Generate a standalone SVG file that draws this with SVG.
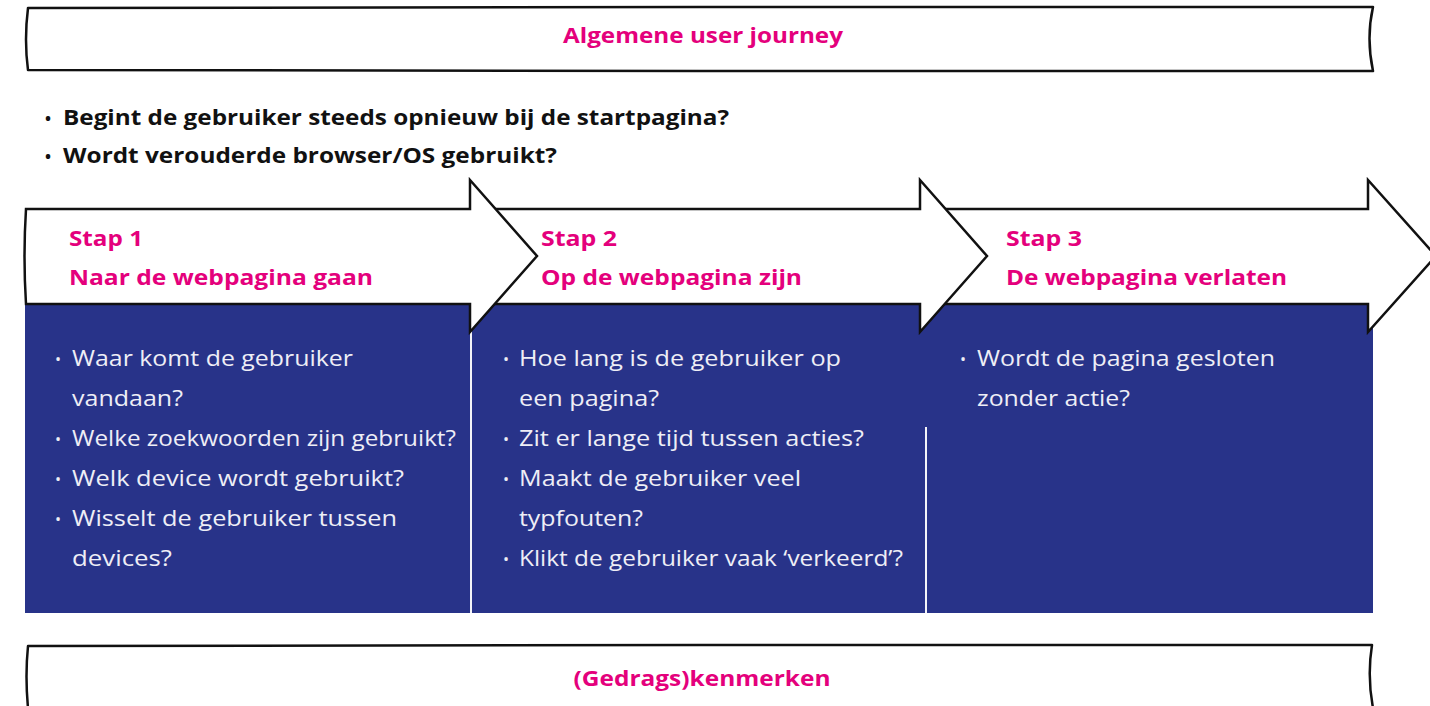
<svg xmlns="http://www.w3.org/2000/svg" width="1430" height="706" viewBox="0 0 1430 706">
<style>
.ban{fill:#fff;stroke:#111;stroke-width:2.5;stroke-linejoin:round}
.arr{fill:#fff;stroke:#111;stroke-width:2.5;stroke-linejoin:miter}
.pk{font-family:"Open Sans","Liberation Sans",sans-serif;font-weight:700;font-size:22px;fill:#e4007c}
.bk{font-family:"Open Sans","Liberation Sans",sans-serif;font-weight:700;font-size:21px;fill:#111}
.wt{font-family:"Open Sans","Liberation Sans",sans-serif;font-weight:400;font-size:22px;fill:#eeeef6}
.bw{font-family:"Open Sans","Liberation Sans",sans-serif;font-size:16px;fill:#eeeef6}
.bb{font-family:"Open Sans","Liberation Sans",sans-serif;font-size:16px;font-weight:700;fill:#111}
.div{stroke:#f4f4f8;stroke-width:2}
</style>
<rect width="1430" height="706" fill="#fff"/>

<g id="banner-top">
<path class="ban" d="M28,8 L700,7 L1373,7 Q1366,38 1373,71 L700,71 L28,70 Q24,40 28,8 Z"/>
<text class="pk" x="703" y="43" text-anchor="middle" textLength="280" lengthAdjust="spacingAndGlyphs">Algemene user journey</text>
</g>

<g id="questions">
<text class="bb" x="45" y="124">•</text>
<text class="bk" x="63" y="125" textLength="666" lengthAdjust="spacingAndGlyphs">Begint de gebruiker steeds opnieuw bij de startpagina?</text>
<text class="bb" x="45" y="162">•</text>
<text class="bk" x="63" y="163" textLength="494" lengthAdjust="spacingAndGlyphs">Wordt verouderde browser/OS gebruikt?</text>
</g>

<g id="panel">
<rect x="25" y="304" width="1348" height="309" fill="#283389"/>
<line class="div" x1="471" y1="330" x2="471" y2="613"/>
<line class="div" x1="926" y1="427" x2="926" y2="613"/>
</g>

<g id="step3">
<path class="arr" d="M920,209 L1368,209 L1368,180 L1436,256 L1368,332 L1368,304 L920,304 Z"/>
<text class="pk" x="1006" y="246" textLength="76" lengthAdjust="spacingAndGlyphs">Stap 3</text>
<text class="pk" x="1006" y="285" textLength="281" lengthAdjust="spacingAndGlyphs">De webpagina verlaten</text>
<text class="bw" x="960" y="365">•</text>
<text class="wt" x="977" y="366" textLength="298" lengthAdjust="spacingAndGlyphs">Wordt de pagina gesloten</text>
<text class="wt" x="977" y="406" textLength="153" lengthAdjust="spacingAndGlyphs">zonder actie?</text>
</g>

<g id="step2">
<path class="arr" d="M470,209 L920,209 L920,180 L987,256 L920,332 L920,304 L470,304 Z"/>
<text class="pk" x="541" y="246" textLength="76" lengthAdjust="spacingAndGlyphs">Stap 2</text>
<text class="pk" x="541" y="285" textLength="261" lengthAdjust="spacingAndGlyphs">Op de webpagina zijn</text>
<text class="bw" x="503" y="365">•</text>
<text class="wt" x="519" y="366" textLength="322" lengthAdjust="spacingAndGlyphs">Hoe lang is de gebruiker op</text>
<text class="wt" x="519" y="406" textLength="140" lengthAdjust="spacingAndGlyphs">een pagina?</text>
<text class="bw" x="503" y="445">•</text>
<text class="wt" x="519" y="446" textLength="345" lengthAdjust="spacingAndGlyphs">Zit er lange tijd tussen acties?</text>
<text class="bw" x="503" y="485">•</text>
<text class="wt" x="519" y="486" textLength="282" lengthAdjust="spacingAndGlyphs">Maakt de gebruiker veel</text>
<text class="wt" x="519" y="526" textLength="124" lengthAdjust="spacingAndGlyphs">typfouten?</text>
<text class="bw" x="503" y="565">•</text>
<text class="wt" x="519" y="566" textLength="384" lengthAdjust="spacingAndGlyphs">Klikt de gebruiker vaak ‘verkeerd’?</text>
</g>

<g id="step1">
<path class="arr" d="M26,209 L470,209 L470,180 L537,256 L470,332 L470,304 L26,304 Q23,256 26,209 Z"/>
<text class="pk" x="69" y="246" textLength="74" lengthAdjust="spacingAndGlyphs">Stap 1</text>
<text class="pk" x="69" y="285" textLength="304" lengthAdjust="spacingAndGlyphs">Naar de webpagina gaan</text>
<text class="bw" x="55" y="365">•</text>
<text class="wt" x="72" y="366" textLength="281" lengthAdjust="spacingAndGlyphs">Waar komt de gebruiker</text>
<text class="wt" x="72" y="406" textLength="111" lengthAdjust="spacingAndGlyphs">vandaan?</text>
<text class="bw" x="55" y="445">•</text>
<text class="wt" x="72" y="446" textLength="384" lengthAdjust="spacingAndGlyphs">Welke zoekwoorden zijn gebruikt?</text>
<text class="bw" x="55" y="485">•</text>
<text class="wt" x="72" y="486" textLength="332" lengthAdjust="spacingAndGlyphs">Welk device wordt gebruikt?</text>
<text class="bw" x="55" y="525">•</text>
<text class="wt" x="72" y="526" textLength="325" lengthAdjust="spacingAndGlyphs">Wisselt de gebruiker tussen</text>
<text class="wt" x="72" y="566" textLength="100" lengthAdjust="spacingAndGlyphs">devices?</text>
</g>

<g id="banner-bottom">
<path class="ban" d="M28,646 L700,645 L1372,645 Q1367,676 1373,708 L28,708 Q25,676 28,646 Z"/>
<text class="pk" x="702" y="686" text-anchor="middle" textLength="257" lengthAdjust="spacingAndGlyphs">(Gedrags)kenmerken</text>
</g>

<g id="connectors"></g>
</svg>
